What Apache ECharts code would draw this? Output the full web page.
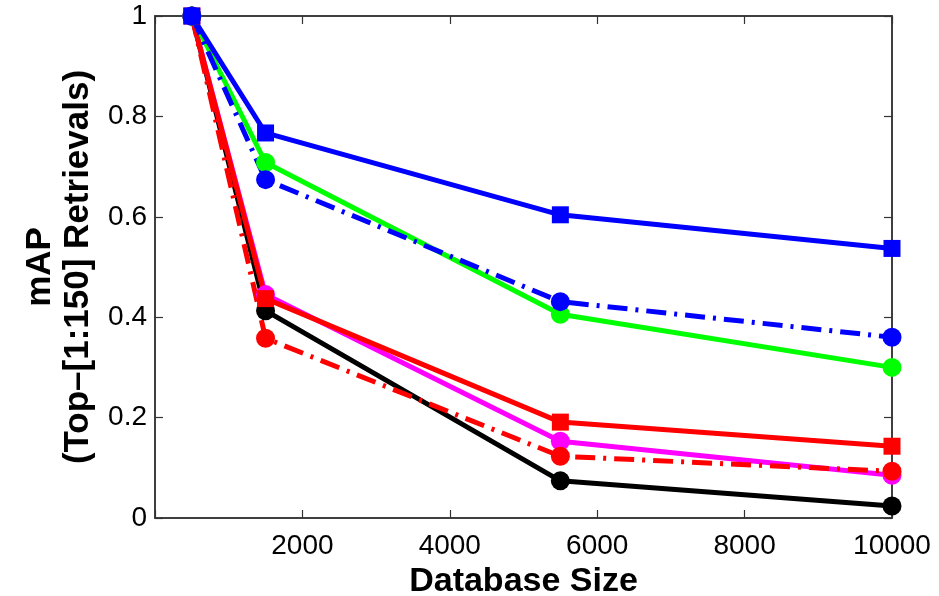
<!DOCTYPE html>
<html><head><meta charset="utf-8">
<script src="https://cdn.jsdelivr.net/npm/echarts@6/dist/echarts.min.js"></script>
<style>html,body{margin:0;padding:0;background:#fff}#c{width:939px;height:596px}</style>
</head><body><div id="c"></div>
<script>
const sizes = [500, 1500, 5500, 10000];
const blueSquare = [1.0, 0.767, 0.604, 0.537];
const blueDashCircle = [1.0, 0.674, 0.431, 0.360];
const greenCircle = [1.0, 0.708, 0.406, 0.300];
const redSquare = [1.0, 0.437, 0.191, 0.143];
const magentaCircle = [1.0, 0.445, 0.153, 0.085];
const redDashCircle = [1.0, 0.358, 0.123, 0.093];
const blackCircle = [1.0, 0.413, 0.074, 0.024];
const xTicks = [0, 2000, 4000, 6000, 8000, 10000];
const yTicks = [0, 0.2, 0.4, 0.6, 0.8, 1];

const FONT = 'Liberation Sans, Arial, Helvetica, sans-serif';
const dashDot = [20, 8, 3, 8];
function mk(name, vals, color, symbol, dashed, size) {
  return {
    name, type: 'line', xAxisIndex: 0, yAxisIndex: 0,
    data: sizes.map((x, i) => [x, vals[i]]),
    symbol, symbolSize: size || 19,
    lineStyle: {color, width: 5, type: dashed ? dashDot : 'solid'},
    itemStyle: {color},
    animation: false
  };
}
const chart = echarts.init(document.getElementById('c'));
const axisLine = {show: true, onZero: false, lineStyle: {color: '#333', width: 1.5}};
const tick = {show: true, inside: true, length: 8, lineStyle: {color: '#333', width: 1.2}};
chart.setOption({
  backgroundColor: '#fff',
  grid: {left: 155, right: 47, top: 16, bottom: 78, containLabel: false, outerBoundsMode: 'none',
    show: true, borderColor: '#333', borderWidth: 1.5, backgroundColor: 'transparent'},
  xAxis: [{
    type: 'value', min: xTicks[0], max: xTicks[xTicks.length - 1], interval: 2000,
    axisLine, splitLine: {show: false}, axisTick: tick,
    axisLabel: {fontFamily: FONT, fontSize: 28, color: '#000', margin: 14,
      formatter: v => v === 0 ? '' : String(v)},
    name: 'Database Size', nameLocation: 'middle', nameGap: 44,
    nameTextStyle: {fontFamily: FONT, fontSize: 34, fontWeight: 'bold', color: '#000'}
  }, {
    type: 'value', position: 'top', min: xTicks[0], max: xTicks[xTicks.length - 1], interval: 2000,
    axisLine, splitLine: {show: false}, axisTick: tick,
    axisLabel: {show: false}
  }],
  yAxis: [{
    type: 'value', min: yTicks[0], max: yTicks[yTicks.length - 1], interval: 0.2,
    axisLine, splitLine: {show: false}, axisTick: tick,
    axisLabel: {fontFamily: FONT, fontSize: 28, color: '#000', margin: 8,
      formatter: v => String(Math.round(v * 10) / 10)},
    name: 'mAP\n(Top\u2013[1:150] Retrievals)', nameLocation: 'middle', nameRotate: 90, nameGap: 48,
    nameTextStyle: {fontFamily: FONT, fontSize: 35, fontWeight: 'bold', color: '#000', lineHeight: 38}
  }, {
    type: 'value', position: 'right', min: yTicks[0], max: yTicks[yTicks.length - 1], interval: 0.2,
    axisLine, splitLine: {show: false}, axisTick: tick,
    axisLabel: {show: false}
  }],
  series: [
    {type: 'line', xAxisIndex: 1, yAxisIndex: 1, data: [], silent: true, animation: false},
    mk('blackCircle', blackCircle, '#000000', 'circle', false),
    mk('magentaCircle', magentaCircle, '#ff00ff', 'circle', false),
    mk('redDashCircle', redDashCircle, '#ff0000', 'circle', true),
    mk('redSquare', redSquare, '#ff0000', 'rect', false, 17),
    mk('greenCircle', greenCircle, '#00ff00', 'circle', false),
    mk('blueDashCircle', blueDashCircle, '#0000ff', 'circle', true),
    mk('blueSquare', blueSquare, '#0000ff', 'rect', false, 17)
  ]
});
</script></body></html>
